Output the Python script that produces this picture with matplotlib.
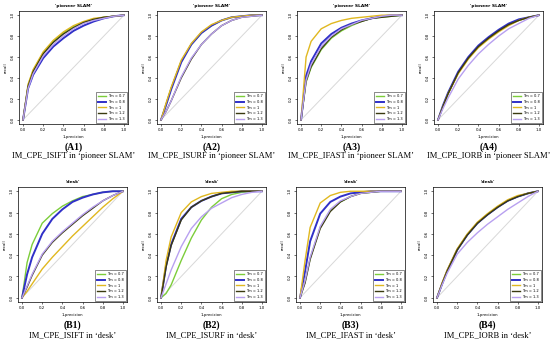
import matplotlib
matplotlib.use("Agg")
import matplotlib.pyplot as plt

# 1-precision sample points
fpr = [0, 0.05, 0.1, 0.2, 0.3, 0.4, 0.5, 0.6, 0.7, 0.8, 0.9, 1.0]

labels = ["Tm = 0.7", "Tm = 0.8", "Tm = 1", "Tm = 1.2", "Tm = 1.3"]
colors = ["#7ccd3a", "#3030c8", "#e0b820", "#3a3a10", "#b8a0f0"]
widths = [1.0, 1.4, 1.0, 1.0, 1.0]

# recall curves, one list per Tm (order as labels)
a1 = [[0, 0.33, 0.47, 0.64, 0.75, 0.83, 0.89, 0.93, 0.96, 0.98, 0.99, 1.0],
      [0, 0.30, 0.43, 0.59, 0.70, 0.78, 0.85, 0.90, 0.94, 0.97, 0.99, 1.0],
      [0, 0.34, 0.48, 0.65, 0.76, 0.84, 0.90, 0.94, 0.97, 0.98, 0.99, 1.0],
      [0, 0.32, 0.46, 0.63, 0.74, 0.82, 0.88, 0.93, 0.96, 0.98, 0.99, 1.0],
      [0, 0.30, 0.44, 0.61, 0.72, 0.80, 0.87, 0.92, 0.95, 0.97, 0.99, 1.0]]
a2 = [[0, 0.15, 0.30, 0.56, 0.72, 0.83, 0.90, 0.95, 0.98, 0.99, 1.0, 1.0],
      [0, 0.14, 0.29, 0.55, 0.72, 0.83, 0.90, 0.95, 0.98, 0.99, 1.0, 1.0],
      [0, 0.16, 0.31, 0.57, 0.73, 0.84, 0.91, 0.95, 0.98, 0.99, 1.0, 1.0],
      [0, 0.08, 0.18, 0.40, 0.58, 0.72, 0.82, 0.90, 0.95, 0.98, 0.99, 1.0],
      [0, 0.08, 0.18, 0.41, 0.59, 0.72, 0.82, 0.90, 0.95, 0.98, 0.99, 1.0]]
a3 = [[0, 0.36, 0.50, 0.67, 0.78, 0.85, 0.90, 0.94, 0.97, 0.98, 0.99, 1.0],
      [0, 0.42, 0.56, 0.73, 0.82, 0.88, 0.92, 0.95, 0.97, 0.99, 1.0, 1.0],
      [0, 0.60, 0.75, 0.87, 0.92, 0.95, 0.97, 0.98, 0.99, 1.0, 1.0, 1.0],
      [0, 0.37, 0.51, 0.68, 0.79, 0.86, 0.91, 0.94, 0.97, 0.98, 0.99, 1.0],
      [0, 0.38, 0.53, 0.70, 0.80, 0.87, 0.91, 0.95, 0.97, 0.99, 1.0, 1.0]]
a4 = [[0, 0.13, 0.25, 0.45, 0.59, 0.70, 0.78, 0.85, 0.91, 0.95, 0.98, 1.0],
      [0, 0.14, 0.26, 0.46, 0.60, 0.71, 0.79, 0.86, 0.92, 0.96, 0.98, 1.0],
      [0, 0.13, 0.25, 0.44, 0.58, 0.69, 0.77, 0.84, 0.90, 0.95, 0.98, 1.0],
      [0, 0.13, 0.25, 0.45, 0.59, 0.70, 0.78, 0.85, 0.91, 0.95, 0.98, 1.0],
      [0, 0.11, 0.21, 0.39, 0.52, 0.63, 0.72, 0.80, 0.87, 0.92, 0.97, 1.0]]
b1 = [[0, 0.33, 0.50, 0.70, 0.79, 0.86, 0.91, 0.95, 0.97, 0.99, 1.0, 1.0],
      [0, 0.22, 0.38, 0.60, 0.74, 0.83, 0.90, 0.94, 0.97, 0.99, 1.0, 1.0],
      [0, 0.06, 0.13, 0.27, 0.38, 0.48, 0.58, 0.67, 0.76, 0.85, 0.93, 1.0],
      [0, 0.10, 0.21, 0.40, 0.52, 0.61, 0.69, 0.77, 0.84, 0.91, 0.96, 1.0],
      [0, 0.11, 0.22, 0.41, 0.53, 0.62, 0.70, 0.78, 0.85, 0.91, 0.96, 1.0]]
b2 = [[0, 0.04, 0.12, 0.35, 0.56, 0.73, 0.85, 0.93, 0.97, 0.99, 1.0, 1.0],
      [0, 0.30, 0.50, 0.74, 0.85, 0.91, 0.95, 0.98, 0.99, 1.0, 1.0, 1.0],
      [0, 0.35, 0.57, 0.80, 0.90, 0.95, 0.98, 0.99, 1.0, 1.0, 1.0, 1.0],
      [0, 0.29, 0.49, 0.73, 0.85, 0.91, 0.95, 0.98, 0.99, 1.0, 1.0, 1.0],
      [0, 0.13, 0.26, 0.48, 0.65, 0.76, 0.84, 0.89, 0.94, 0.97, 0.99, 1.0]]
b3 = [[0, 0.15, 0.37, 0.66, 0.82, 0.90, 0.95, 0.98, 0.99, 1.0, 1.0, 1.0],
      [0, 0.25, 0.53, 0.79, 0.90, 0.95, 0.98, 0.99, 1.0, 1.0, 1.0, 1.0],
      [0, 0.35, 0.66, 0.89, 0.96, 0.99, 1.0, 1.0, 1.0, 1.0, 1.0, 1.0],
      [0, 0.14, 0.36, 0.65, 0.81, 0.90, 0.95, 0.98, 0.99, 1.0, 1.0, 1.0],
      [0, 0.16, 0.38, 0.67, 0.83, 0.91, 0.95, 0.98, 0.99, 1.0, 1.0, 1.0]]
b4 = [[0, 0.13, 0.25, 0.45, 0.59, 0.70, 0.78, 0.85, 0.91, 0.95, 0.98, 1.0],
      [0, 0.13, 0.25, 0.45, 0.59, 0.70, 0.78, 0.85, 0.91, 0.95, 0.98, 1.0],
      [0, 0.14, 0.26, 0.46, 0.60, 0.71, 0.79, 0.86, 0.92, 0.96, 0.98, 1.0],
      [0, 0.13, 0.25, 0.45, 0.59, 0.70, 0.78, 0.85, 0.91, 0.95, 0.98, 1.0],
      [0, 0.12, 0.23, 0.41, 0.52, 0.61, 0.69, 0.76, 0.83, 0.89, 0.95, 1.0]]

panels = [a1, a2, a3, a4, b1, b2, b3, b4]
titles = ["'pioneer SLAM'"] * 4 + ["'desk'"] * 4
tags = ["(A1)", "(A2)", "(A3)", "(A4)", "(B1)", "(B2)", "(B3)", "(B4)"]
captions = ["IM_CPE_ISIFT in \u2018pioneer SLAM\u2019",
            "IM_CPE_ISURF in \u2018pioneer SLAM\u2019",
            "IM_CPE_IFAST in \u2018pioneer SLAM\u2019",
            "IM_CPE_IORB in \u2018pioneer SLAM\u2019",
            "IM_CPE_ISIFT in \u2018desk\u2019",
            "IM_CPE_ISURF in \u2018desk\u2019",
            "IM_CPE_IFAST in \u2018desk\u2019",
            "IM_CPE_IORB in \u2018desk\u2019"]

W, H = 550, 349
fig = plt.figure(figsize=(5.5, 3.49), dpi=100)

lefts = [[19, 157, 297, 434], [18, 157, 296, 433]]
tops = [11, 187]
bottoms = [124, 302]
tag_y = [147, 325]
cap_y = [156, 335]
aw = 109

for i, data in enumerate(panels):
    r, c = divmod(i, 4)
    l = lefts[r][c]
    t, b = tops[r], bottoms[r]
    ax = fig.add_axes([l / W, 1 - b / H, aw / W, (b - t) / H])
    ax.plot([0, 1], [0, 1], color="#d8d8d8", lw=0.7)
    for ys, lab, col, lw in zip(data, labels, colors, widths):
        ax.plot(fpr, ys, color=col, lw=lw, label=lab)
    ax.set_xlim(-0.04, 1.04)
    ax.set_ylim(-0.04, 1.04)
    ticks = [0, 0.2, 0.4, 0.6, 0.8, 1.0]
    ax.set_xticks(ticks)
    ax.set_yticks(ticks)
    ax.set_xticklabels(["%.1f" % v for v in ticks], fontsize=2.8)
    ax.set_yticklabels(["%.1f" % v for v in ticks], fontsize=2.8, rotation=90, va="center")
    ax.tick_params(length=1.5, width=0.4, pad=1.5)
    for s in ax.spines.values():
        s.set_linewidth(0.5)
    ax.set_title(titles[i], fontsize=3.2, fontweight="bold", pad=3)
    ax.set_xlabel("1-precision", fontsize=2.8, labelpad=2)
    ax.set_ylabel("recall", fontsize=2.8, labelpad=2)
    leg = ax.legend(loc="lower right", fontsize=2.6, frameon=True, fancybox=False,
                    edgecolor="black", borderpad=0.6, labelspacing=0.5,
                    handlelength=2.2, borderaxespad=0.15)
    leg.get_frame().set_linewidth(0.4)

    cx = (l + aw / 2) / W
    fig.text(cx, 1 - tag_y[r] / H, tags[i], ha="center", va="center",
             fontsize=7, fontweight="bold", family="Liberation Serif")
    fig.text(cx, 1 - cap_y[r] / H, captions[i], ha="center", va="center",
             fontsize=6.1, family="Liberation Serif")

fig.savefig("out.png", dpi=100)
